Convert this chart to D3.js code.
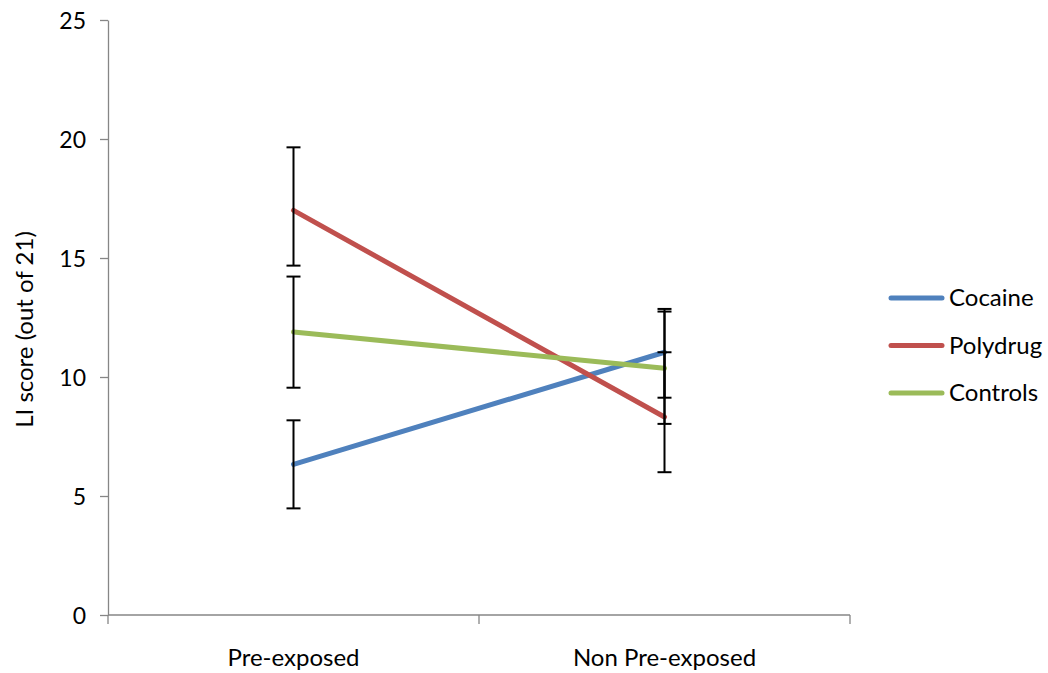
<!DOCTYPE html>
<html><head><meta charset="utf-8">
<script src="https://cdn.jsdelivr.net/npm/d3@7"></script>
<style>body{margin:0;background:#fff}svg{display:block}text{font-family:Lato,"Open Sans",sans-serif;fill:#000}</style>
</head><body><svg id="c" width="1048" height="673"></svg>
<script>
const categories = ["Pre-exposed", "Non Pre-exposed"];
const seriesNames = ["Cocaine", "Polydrug", "Controls"];
const cocaine = [6.33, 11.04];
const polydrug = [17.0, 8.32];
const controls = [11.89, 10.37];
const cocaineErrUp = [1.85, 1.82];
const cocaineErrDown = [1.85, 1.91];
const polydrugErrUp = [2.65, 2.72];
const polydrugErrDown = [2.32, 2.32];
const controlsErrUp = [2.33, 2.38];
const controlsErrDown = [2.34, 2.34];
const yTicks = [0, 5, 10, 15, 20, 25];
const colors = ["#4F81BD", "#C0504D", "#9BBB59"];

(function () {
const series = [
  {name: seriesNames[0], values: cocaine, up: cocaineErrUp, down: cocaineErrDown, color: colors[0]},
  {name: seriesNames[1], values: polydrug, up: polydrugErrUp, down: polydrugErrDown, color: colors[1]},
  {name: seriesNames[2], values: controls, up: controlsErrUp, down: controlsErrDown, color: colors[2]}
];

const svg = d3.select("#c");
const mLeft = 108, mRight = 850, mTop = 20, mBottom = 615;
const x = d3.scaleBand().domain(categories).range([mLeft, mRight]);
const y = d3.scaleLinear().domain([0, 25]).range([mBottom, mTop]);
const axisColor = "#868686";

const yAxis = svg.append("g").attr("transform", `translate(${mLeft},0)`)
  .call(d3.axisLeft(y).tickValues(yTicks).tickSize(8).tickPadding(14).tickSizeOuter(0));
yAxis.select(".domain").attr("stroke", axisColor).attr("stroke-width", 1.3);
yAxis.selectAll(".tick line").attr("stroke", axisColor).attr("stroke-width", 1.3);
yAxis.selectAll(".tick text").attr("font-size", 23).attr("font-family", "Lato").attr("dy", "0.35em");

const xAxisG = svg.append("g").attr("transform", `translate(0,${mBottom})`);
xAxisG.append("line").attr("x1", mLeft).attr("x2", mRight).attr("stroke", axisColor).attr("stroke-width", 1.3);
const bounds = [mLeft, ...categories.map(c => x(c) + x.bandwidth())];
xAxisG.selectAll("line.t").data(bounds).join("line").attr("class", "t")
  .attr("x1", d => d).attr("x2", d => d).attr("y1", 0).attr("y2", 9)
  .attr("stroke", axisColor).attr("stroke-width", 1.3);
xAxisG.selectAll("text").data(categories).join("text")
  .attr("x", d => x(d) + x.bandwidth() / 2).attr("y", 51)
  .attr("text-anchor", "middle").attr("font-size", 24).text(d => d);

svg.append("text").attr("transform", `translate(33,${(mTop+mBottom)/2 + 12}) rotate(-90)`)
  .attr("text-anchor", "middle").attr("font-size", 24).text("LI score (out of 21)");

const cx = c => x(c) + x.bandwidth() / 2;
const line = d3.line().x((d, i) => cx(categories[i])).y(d => y(d));

series.forEach(s => {
  svg.append("path").datum(s.values).attr("d", line)
    .attr("fill", "none").attr("stroke", s.color).attr("stroke-width", 5).attr("stroke-linecap", "round");
});

series.forEach(s => {
  const g = svg.append("g");
  s.values.forEach((v, i) => {
    const px = cx(categories[i]);
    const y1 = y(v + s.up[i]), y2 = y(v - s.down[i]);
    g.append("line").attr("x1", px).attr("x2", px).attr("y1", y1).attr("y2", y2).attr("stroke", "#000").attr("stroke-width", 2);
    [y1, y2].forEach(yy => g.append("line").attr("x1", px - 7).attr("x2", px + 7).attr("y1", yy).attr("y2", yy).attr("stroke", "#000").attr("stroke-width", 2));
  });
});

const leg = svg.append("g");
series.forEach((s, i) => {
  const ly = 298 + i * 47.5;
  leg.append("line").attr("x1", 891).attr("x2", 942).attr("y1", ly).attr("y2", ly)
    .attr("stroke", s.color).attr("stroke-width", 5).attr("stroke-linecap", "round");
  leg.append("text").attr("x", 949).attr("y", ly + 8).attr("font-size", 24).text(s.name);
});
})();
</script></body></html>
